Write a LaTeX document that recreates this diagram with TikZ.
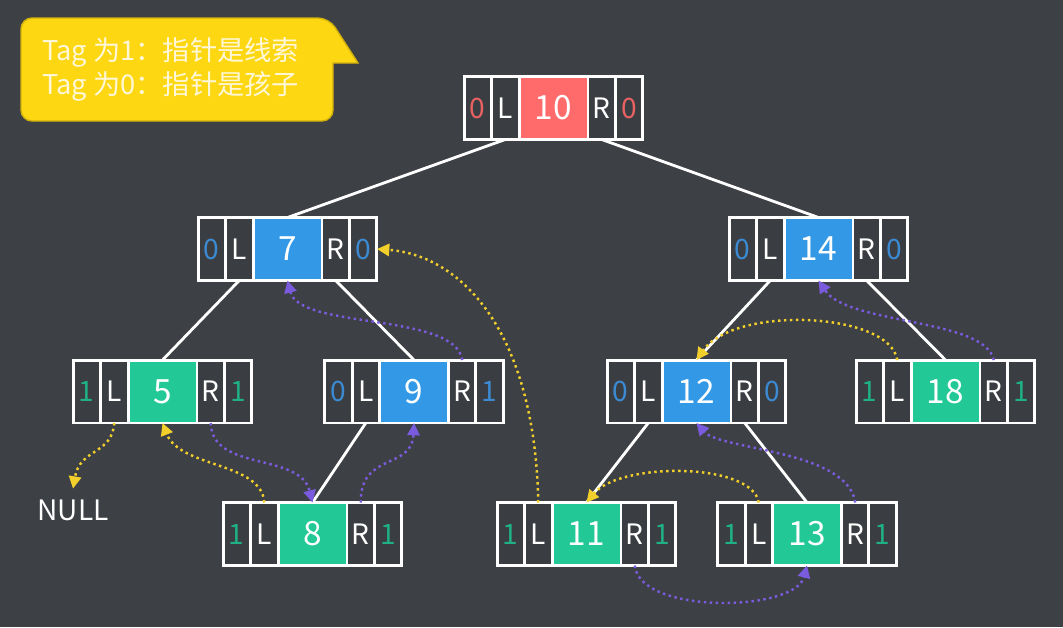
\documentclass[tikz,border=0pt]{standalone}
\usepackage{fontspec}
\setmainfont{Noto Sans CJK SC}
\usetikzlibrary{positioning,arrows.meta}
\definecolor{bg}{HTML}{3D4045}
\definecolor{cellbg}{HTML}{3A3D42}
\definecolor{fillr}{HTML}{FF6B6B}
\definecolor{tagr}{HTML}{E86262}
\definecolor{fillb}{HTML}{3399E6}
\definecolor{tagb}{HTML}{3C8BD2}
\definecolor{fillg}{HTML}{22C896}
\definecolor{tagg}{HTML}{1FB084}
\definecolor{threadyel}{HTML}{F2CF2A}
\definecolor{threadpur}{HTML}{7B5BDD}
\definecolor{notefill}{HTML}{FCD712}
\definecolor{noteline}{HTML}{D2B10C}
\definecolor{notetext}{HTML}{FFF7D8}

\begin{document}
\begin{tikzpicture}[x=0.02cm, y=-0.02cm,
    cell/.style={draw=white, line width=1.7pt, fill=cellbg, minimum width=0.55cm,
      minimum height=1.26cm, inner sep=0pt, outer sep=0pt,
      font=\fontsize{16}{19}\selectfont, text=white},
    valcell/.style={cell, minimum width=1.38cm, font=\fontsize{19}{22}\selectfont},
    branch/.style={draw=white, line width=1.6pt},
    lthread/.style={color=threadyel, line width=1.4pt, dash pattern=on 1.4pt off 2pt,
      -{Triangle[length=7pt,width=7pt]}},
    rthread/.style={lthread, color=threadpur}]
    \useasboundingbox (0,0) rectangle (1063,627);
    \fill[bg] (0,0) rectangle (1063,627);

    % note bubble
    \filldraw[fill=notefill, draw=noteline, line width=0.8pt]
      (21,70) [rounded corners=0.22cm] -- (21,18) -- (329,18) [sharp corners] -- (358,63)
      -- (333,63) [rounded corners=0.22cm] -- (333,121) -- (21,121) -- cycle;
    \node[anchor=west, inner sep=0pt, align=left, text=notetext,
      font=\fontsize{15.5}{19.3}\selectfont] (tagnote) at (42,69)
      {Tag 为1：指针是线索\\Tag 为0：指针是孩子};

    % tree nodes
    \foreach \n/\x/\y/\val/\p/\q/\k in {r/553.5/108/10/0/0/r, n7/287.5/249/7/0/0/b,
        n14/818.5/249/14/0/0/b, n5/162.5/391.5/5/1/1/g, n9/414/391.5/9/0/1/b,
        n12/696.5/391.5/12/0/0/b, n18/945.5/391.5/18/1/1/g, n8/312.5/534/8/1/1/g,
        n11/586.5/534/11/1/1/g, n13/807/534/13/1/1/g} {
      \node[valcell, fill=fill\k] (\n) at (\x,\y) {\val};
      \node[cell, left=0pt of \n] (\n-L) {L};
      \node[cell, left=0pt of \n-L, text=tag\k] (\n-lt) {\p};
      \node[cell, right=0pt of \n] (\n-R) {R};
      \node[cell, right=0pt of \n-R, text=tag\k] (\n-rt) {\q};
    }
    \node[inner sep=6pt, text=white, font=\fontsize{16}{19}\selectfont] (null) at (73,510) {NULL};

    % children
    \draw[branch] (r-L.south) -- (n7.north);
    \draw[branch] (r-R.south) -- (n14.north);
    \draw[branch] (n7-L.south) -- (n5.north);
    \draw[branch] (n7-R.south) -- (n9.north);
    \draw[branch] (n9-L.south) -- (n8.north);
    \draw[branch] (n14-L.south) -- (n12.north);
    \draw[branch] (n14-R.south) -- (n18.north);
    \draw[branch] (n12-L.south) -- (n11.north);
    \draw[branch] (n12-R.south) -- (n13.north);

    % threads
    \draw[lthread] (n5-L.south) .. controls (112,455) and (80,448) .. (null.north);
    \draw[lthread] (n8-L.north) .. controls (262,462) and (180,468) .. (n5.south);
    \draw[lthread] (n11-L.north) .. controls (535,330) and (460,255) .. (n7-rt.east);
    \draw[lthread] (n13-L.north) .. controls (752,462) and (620,462) .. (n11.north);
    \draw[lthread] (n18-L.north) .. controls (890,312) and (735,305) .. (n12.north);
    \draw[rthread] (n5-R.south) .. controls (212,472) and (300,452) .. (n8.north);
    \draw[rthread] (n8-R.north) .. controls (360,452) and (412,470) .. (n9.south);
    \draw[rthread] (n9-R.north) .. controls (455,312) and (300,330) .. (n7.south);
    \draw[rthread] (n11-R.south) .. controls (640,615) and (795,612) .. (n13.south);
    \draw[rthread] (n13-R.north) .. controls (848,450) and (720,450) .. (n12.south);
    \draw[rthread] (n18-R.north) .. controls (985,318) and (848,325) .. (n14.south);
\end{tikzpicture}
\end{document}
